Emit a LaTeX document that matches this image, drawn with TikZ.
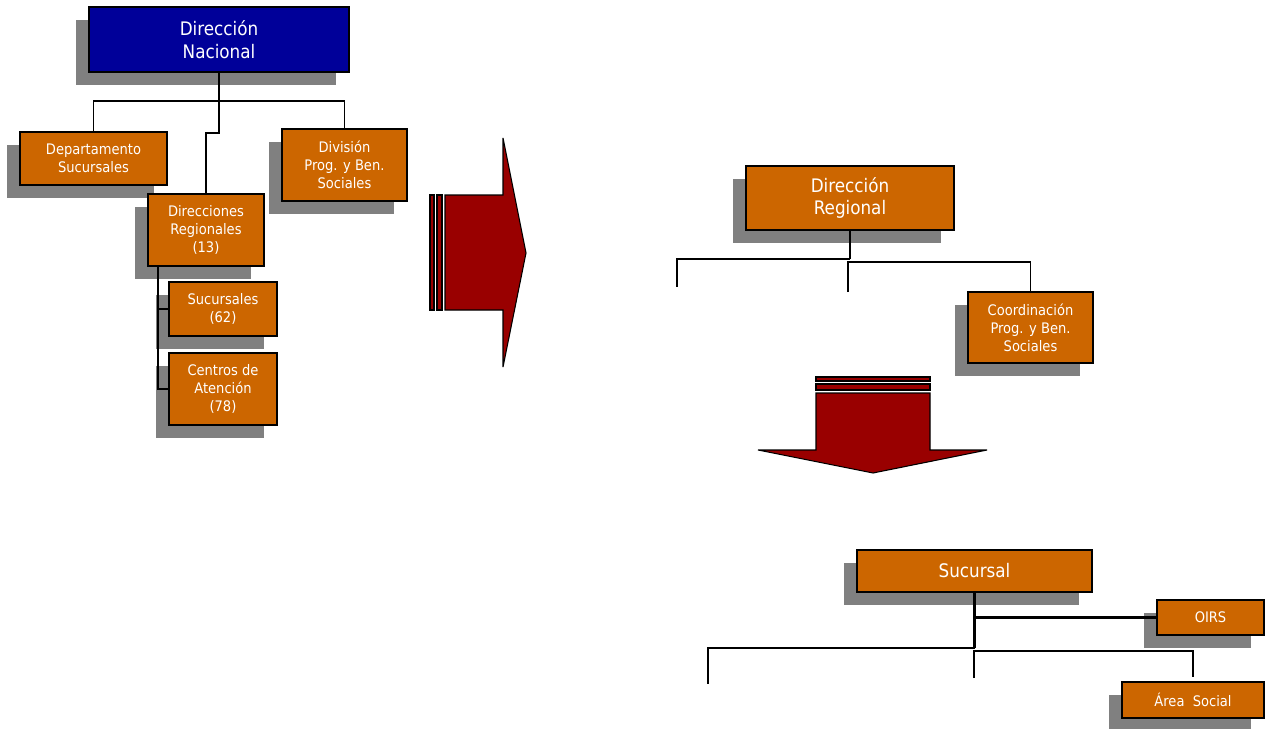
\documentclass[tikz,border=0pt]{standalone}
\usepackage{fontspec}
\setmainfont{DejaVu Sans Condensed}
\usetikzlibrary{shadows}
\definecolor{unitorange}{HTML}{CC6600}
\definecolor{unitblue}{HTML}{000099}
\definecolor{arrowred}{HTML}{990000}

\begin{document}
\begin{tikzpicture}[x=0.75pt,y=-0.75pt,
  unit/.style={draw=black, line width=1pt, fill=unitorange, text=white, align=center, inner sep=0pt,
    drop shadow={shadow xshift=-9.75pt, shadow yshift=-9.75pt, opacity=1, fill=gray, draw=none}},
  boxsize/.style 2 args={minimum width=#1*0.75pt, minimum height=#2*0.75pt},
  small/.style={font=\fontsize{10.9}{13.6}\selectfont},
  big/.style={font=\fontsize{14}{17}\selectfont},
  link/.style={line width=1pt},
  trunk/.style={line width=1.6pt},
  block/.style={fill=arrowred, draw=black, line width=0.8pt}]
  \useasboundingbox (0,0) rectangle (1269,728);

  \node[unit, fill=unitblue, big, boxsize={260}{65}] (nacional) at (219,39.5) {Dirección\\Nacional};
  \node[unit, small, boxsize={147}{53}] (depto) at (93.5,158.5) {Departamento\\Sucursales};
  \node[unit, small, boxsize={125}{72}] (division) at (344.5,165) {División\\Prog. y Ben.\\Sociales};
  \node[unit, small, boxsize={116}{72}] (regionales) at (206,230) {Direcciones\\Regionales\\(13)};
  \node[unit, small, boxsize={108}{54}] (sucursales) at (223,309) {Sucursales\\(62)};
  \node[unit, small, boxsize={108}{72}] (centros) at (223,389) {Centros de\\Atención\\(78)};

  \coordinate (busN) at (219,101);
  \coordinate (kneeN) at (219,133);
  \coordinate (sideR) at (158,266);
  \draw[trunk] (nacional.south) -- (busN);
  \draw[link] (depto.north) |- (busN) -| (division.north);
  \draw[link] (busN) -- (kneeN) -| (regionales.north);
  \draw[link] (sideR) |- (centros.west);
  \draw[link] (sideR |- sucursales.west) -- (sucursales.west);

  \fill[block] (430,195) rectangle (434,310);
  \fill[block] (437,195) rectangle (442,310);
  \filldraw[block] (445,195) -- (503,195) -- (503,138) -- (526,253) -- (503,367) -- (503,310) -- (445,310) -- cycle;

  \node[unit, big, boxsize={208}{64}] (dregional) at (850,198) {Dirección\\Regional};
  \node[unit, small, boxsize={125}{71}] (coord) at (1030.5,327.5) {Coordinación\\Prog. y Ben.\\Sociales};

  \coordinate (busRL) at (850,259);
  \coordinate (leftR) at (677,287);
  \coordinate (busRR) at (848,262);
  \coordinate (midR) at (848,292);
  \draw[trunk] (dregional.south) -- (busRL);
  \draw[link] (busRL) -| (leftR);
  \draw[link] (midR) -- (busRR) -| (coord.north);

  \filldraw[block] (816,377) rectangle (930,381);
  \filldraw[block] (816,384) rectangle (930,390);
  \filldraw[block] (816,393) -- (930,393) -- (930,450) -- (987,450) -- (873,473) -- (758,450) -- (816,450) -- cycle;

  \node[unit, big, boxsize={235}{42}] (sucursal) at (974.5,571) {Sucursal};
  \node[unit, small, boxsize={107}{35}] (oirs) at (1210.5,617.5) {OIRS};
  \node[unit, small, boxsize={142}{36}] (area) at (1193,700) {Área\ \ Social};

  \coordinate (busSL) at (974.5,648);
  \coordinate (leftS) at (708,684);
  \coordinate (busSR) at (974,651);
  \coordinate (midS) at (974,678);
  \coordinate (rightS) at (1193,677);
  \draw[trunk] (sucursal.south) -- (busSL);
  \draw[trunk] (sucursal.south |- oirs.west) -- (oirs.west);
  \draw[link] (busSL) -| (leftS);
  \draw[link] (midS) -- (busSR) -| (rightS);
\end{tikzpicture}
\end{document}
